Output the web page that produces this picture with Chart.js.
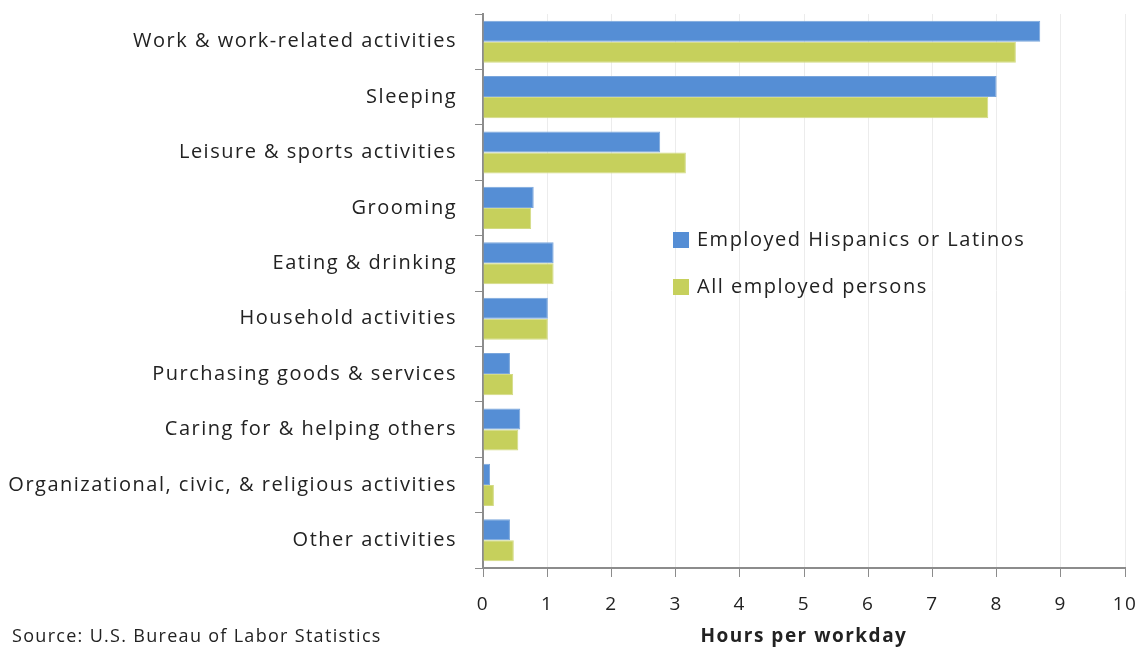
<!DOCTYPE html>
<html>
<head>
<meta charset="utf-8">
<script src="https://cdn.jsdelivr.net/npm/chart.js@4"></script>
<style>
  body { margin: 0; background: #fff; }
  #wrap { width: 1143px; height: 648px; position: relative; }
</style>
</head>
<body>
<div id="wrap"><canvas id="graph"></canvas></div>
<script>
var categories = [
  'Work & work-related activities',
  'Sleeping',
  'Leisure & sports activities',
  'Grooming',
  'Eating & drinking',
  'Household activities',
  'Purchasing goods & services',
  'Caring for & helping others',
  'Organizational, civic, & religious activities',
  'Other activities'
]
var hispanic = [8.68, 8.0, 2.76, 0.79, 1.1, 1.01, 0.42, 0.58, 0.11, 0.42]
var allPersons = [8.3, 7.87, 3.16, 0.75, 1.1, 1.01, 0.47, 0.55, 0.17, 0.48]
var xTicks = [0, 1, 2, 3, 4, 5, 6, 7, 8, 9, 10]

var FONT = '"Open Sans", sans-serif'
var axisGray = '#8c8c8c'

// original text is Calibri with loose spacing, widen Open Sans a bit
var spacing = {
  id: 'spacing',
  beforeDraw: function (chart) {
    chart.ctx.letterSpacing = '1.5px'
  }
}

// legend + source note drawn by hand so they sit where the original has them
var extras = {
  id: 'extras',
  afterDraw: function (chart) {
    var ctx = chart.ctx
    ctx.save()
    ctx.letterSpacing = '1.5px'
    ctx.font = '20px ' + FONT
    ctx.textBaseline = 'middle'
    ctx.textAlign = 'left'
    chart.data.datasets.forEach(function (ds, i) {
      var y = 240 + i * 47
      ctx.fillStyle = ds.backgroundColor
      ctx.fillRect(673, y - 8, 16, 16)
      ctx.fillStyle = '#222'
      ctx.fillText(ds.label, 697, y)
    })
    ctx.font = '18px ' + FONT
    ctx.letterSpacing = '1.3px'
    ctx.fillStyle = '#222'
    ctx.fillText('Source: U.S. Bureau of Labor Statistics', 12, 637)
    ctx.restore()
  }
}

var ctx = document.getElementById('graph').getContext('2d')
var chart = new Chart(ctx, {
  type: 'bar',
  data: {
    labels: categories,
    datasets: [{
      label: 'Employed Hispanics or Latinos',
      data: hispanic,
      backgroundColor: '#558ED5',
      borderColor: '#7aa6dc',
      borderWidth: 1
    }, {
      label: 'All employed persons',
      data: allPersons,
      backgroundColor: '#C6D05C',
      borderColor: '#d3db84',
      borderWidth: 1
    }]
  },
  options: {
    indexAxis: 'y',
    responsive: true,
    maintainAspectRatio: false,
    animation: false,
    datasets: { bar: { barPercentage: 1, categoryPercentage: 0.76 } },
    layout: { padding: { top: 14, right: 18, left: 0, bottom: 0 } },
    plugins: {
      legend: { display: false },
      tooltip: { enabled: false }
    },
    scales: {
      x: {
        min: 0,
        max: 10,
        afterBuildTicks: function (scale) {
          scale.ticks = xTicks.map(function (v) { return { value: v } })
        },
        afterFit: function (scale) {
          scale.height = 80
          scale.paddingLeft = 0
          scale.paddingRight = 0
        },
        grid: { color: '#ececec', tickColor: axisGray, tickLength: 9, lineWidth: 1 },
        border: { color: axisGray, width: 2 },
        ticks: { color: '#222', font: { family: FONT, size: 19 }, padding: 16 },
        title: {
          display: true,
          text: 'Hours per workday',
          color: '#222',
          font: { family: FONT, size: 19, weight: 'bold' },
          padding: { top: 0, bottom: 0 }
        }
      },
      y: {
        afterFit: function (scale) {
          scale.width = 483
          // label padding would otherwise push the plot down
          scale.paddingTop = 0
          scale.paddingBottom = 0
        },
        grid: { offset: true, drawOnChartArea: false, tickColor: axisGray, tickLength: 8 },
        border: { color: axisGray, width: 2 },
        ticks: { color: '#222', font: { family: FONT, size: 20 }, padding: 18 }
      }
    }
  },
  plugins: [spacing, extras]
})
</script>
</body>
</html>
